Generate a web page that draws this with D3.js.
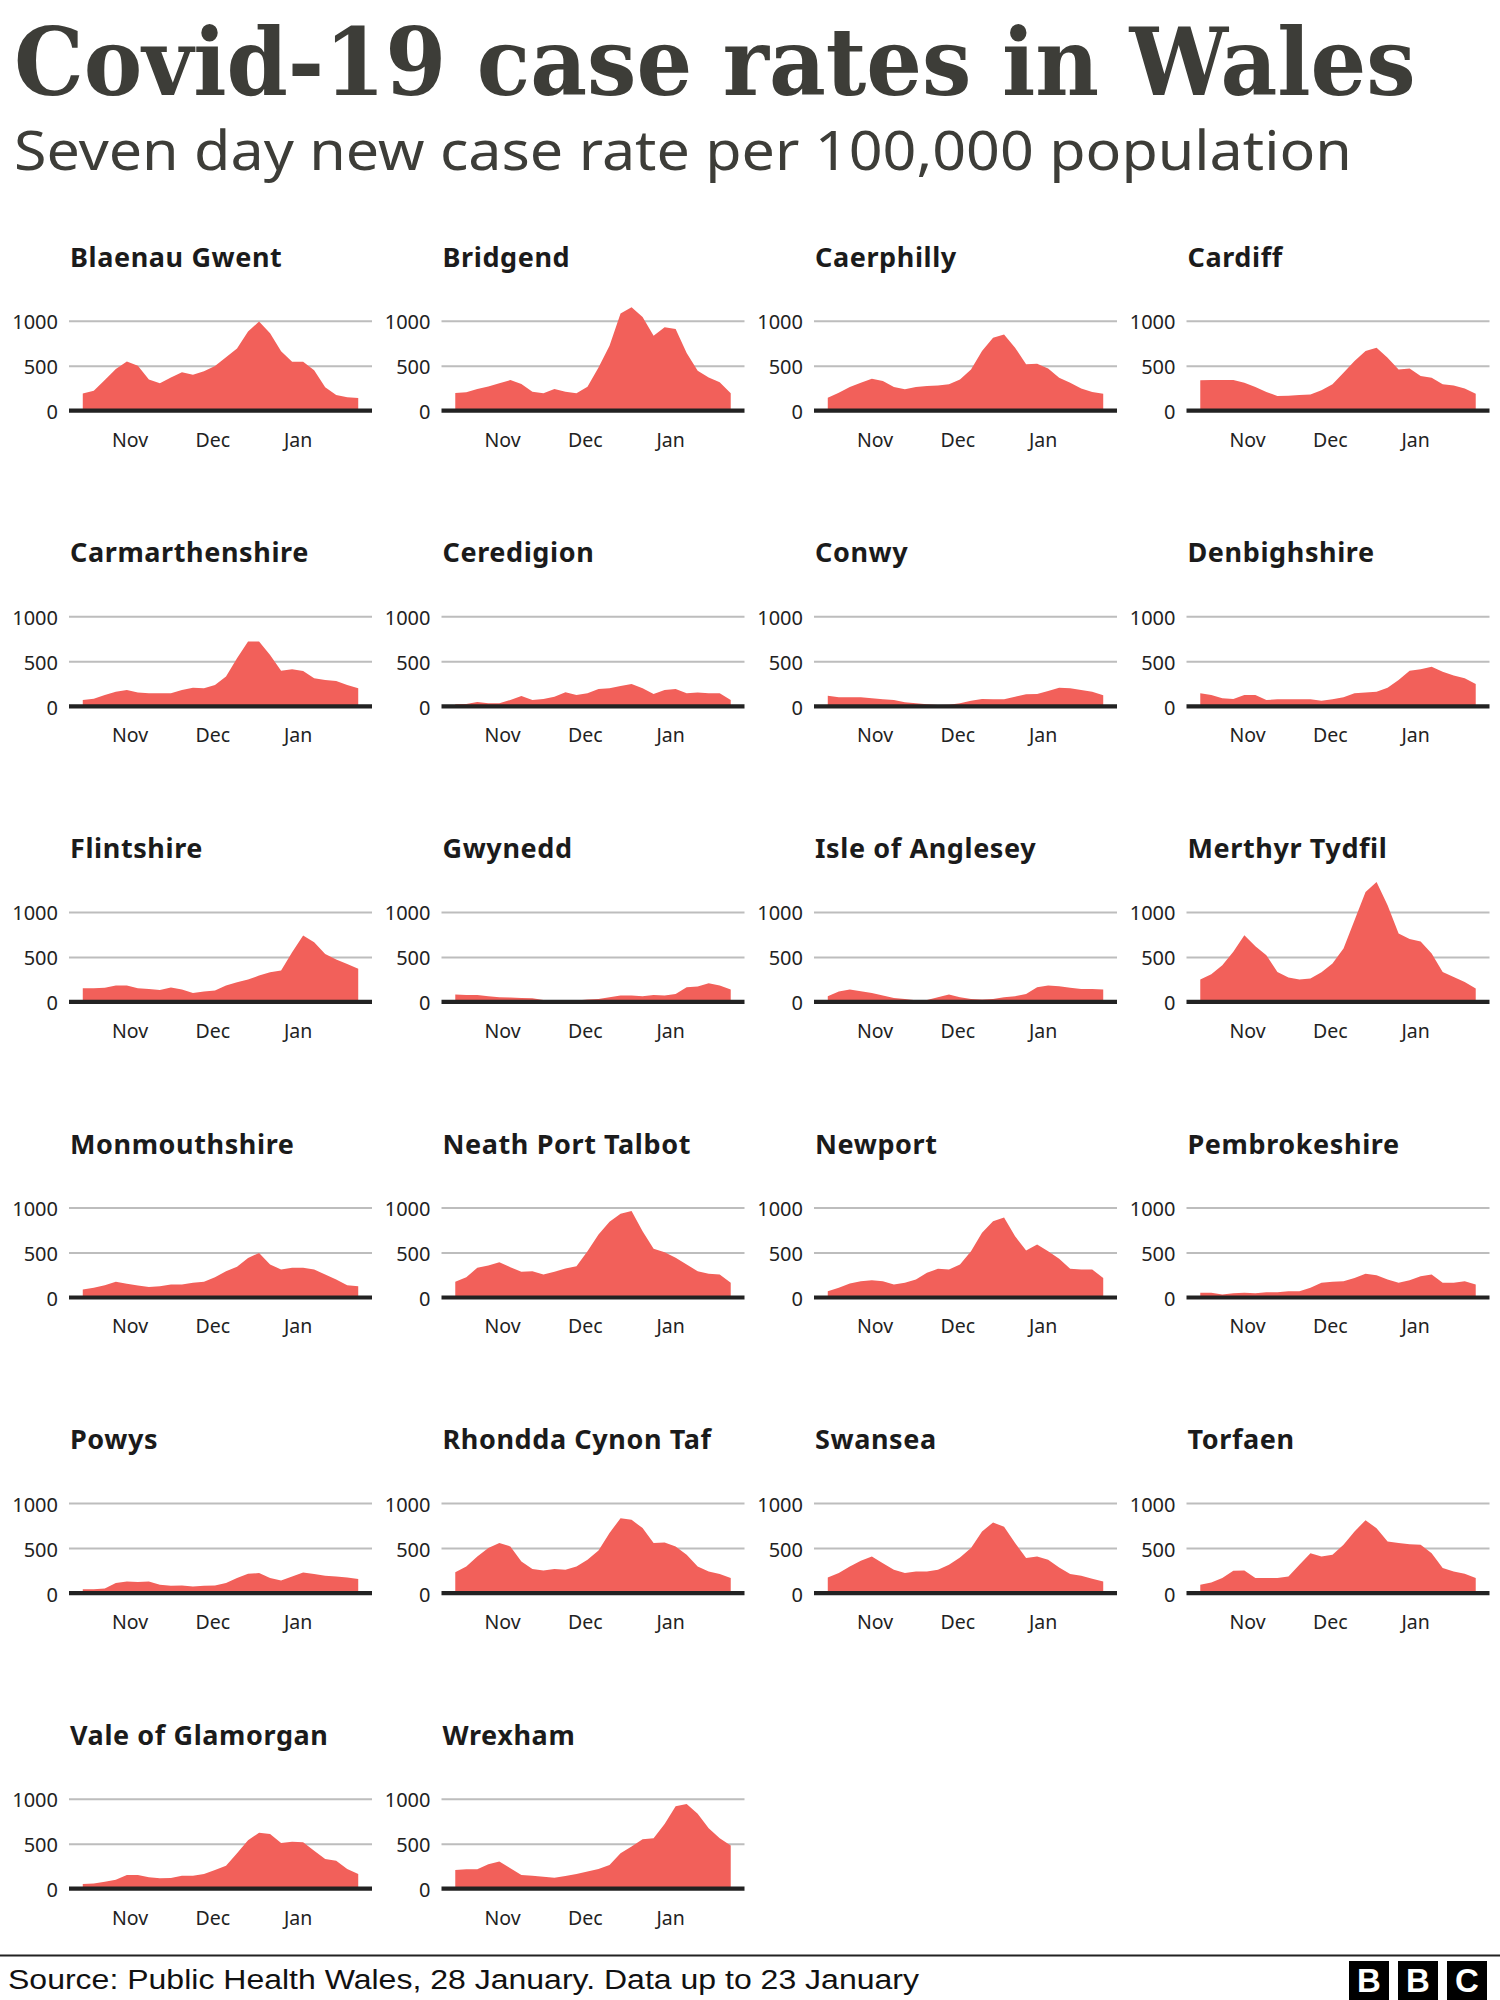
<!DOCTYPE html>
<html><head><meta charset="utf-8">
<script src="https://cdn.jsdelivr.net/npm/d3@7"></script>
<style>body{margin:0;background:#fff}</style>
</head><body>
<svg id="chart" width="1500" height="2000" xmlns="http://www.w3.org/2000/svg"></svg>
<script>
// ---------- DATA ----------
const areas = ["Blaenau Gwent","Bridgend","Caerphilly","Cardiff",
  "Carmarthenshire","Ceredigion","Conwy","Denbighshire",
  "Flintshire","Gwynedd","Isle of Anglesey","Merthyr Tydfil",
  "Monmouthshire","Neath Port Talbot","Newport","Pembrokeshire",
  "Powys","Rhondda Cynon Taf","Swansea","Torfaen",
  "Vale of Glamorgan","Wrexham"];

const sampleDates = ["2020-10-15","2020-10-19","2020-10-23","2020-10-27","2020-10-31",
  "2020-11-04","2020-11-08","2020-11-12","2020-11-16","2020-11-20","2020-11-24","2020-11-28",
  "2020-12-02","2020-12-06","2020-12-10","2020-12-14","2020-12-18","2020-12-22","2020-12-26","2020-12-30",
  "2021-01-03","2021-01-07","2021-01-11","2021-01-15","2021-01-19","2021-01-23"];

const blaenauGwent   = [190,222,340,463,548,500,348,304,370,426,400,437,496,593,690,880,990,860,660,545,545,450,260,175,150,140];
const bridgend       = [196,204,240,270,304,340,296,211,193,240,211,193,267,481,722,1080,1150,1040,833,926,907,640,444,370,315,193];
const caerphilly     = [144,200,263,311,355,330,263,237,263,274,281,293,348,459,663,811,848,700,515,522,470,367,311,248,207,189];
const cardiff        = [337,340,340,340,311,263,207,163,167,174,181,226,293,422,552,663,700,589,459,470,385,367,293,281,248,189];
const carmarthenshire= [70,85,126,163,181,152,144,144,144,181,207,200,237,330,533,720,720,570,396,411,393,311,293,281,237,200];
const ceredigion     = [22,26,48,33,33,70,115,70,81,107,156,126,144,193,200,226,248,200,137,181,193,144,152,144,144,70];
const conwy          = [118,100,100,100,89,78,70,44,33,22,15,18,33,63,81,78,78,107,133,137,170,207,200,181,163,122];
const denbighshire   = [144,126,89,81,126,126,70,78,78,78,78,63,78,100,144,152,163,207,293,396,411,440,385,341,311,248];
const flintshire     = [152,152,156,181,181,152,144,133,159,137,100,115,126,181,218,248,293,330,348,552,737,663,533,470,422,367];
const gwynedd        = [81,78,78,63,52,48,44,41,22,15,11,15,26,33,52,70,70,63,78,70,89,163,170,207,181,137];
const angleseyVals   = [63,115,137,118,100,70,44,33,18,22,52,81,52,33,26,33,52,63,89,163,181,174,156,144,144,137];
const merthyrTydfil  = [248,307,407,556,741,619,519,333,270,248,259,330,426,593,907,1222,1333,1074,759,700,670,537,333,278,222,148];
const monmouthshire  = [89,107,137,174,152,133,118,126,144,144,163,174,226,293,341,440,495,367,311,330,330,311,256,200,137,126];
const neathPortTalbot= [174,226,330,355,393,337,285,293,256,285,322,348,515,700,841,930,960,737,541,504,441,367,293,263,256,163];
const newport        = [70,107,156,181,193,181,144,163,200,274,319,311,367,515,719,848,890,680,522,589,515,430,319,311,311,218];
const pembrokeshire  = [52,52,33,48,52,48,59,59,70,70,107,163,174,181,218,263,248,200,163,193,237,256,163,163,181,144];
const powys          = [44,44,52,111,130,122,130,93,81,85,74,81,85,111,167,215,222,167,141,185,230,211,193,185,174,156];
const rhonddaCynonTaf= [233,296,407,500,556,519,352,267,252,267,259,296,370,474,667,833,815,722,556,563,519,426,296,241,211,167];
const swansea        = [174,222,296,359,407,333,259,222,241,241,259,315,396,500,685,785,737,556,389,407,370,285,211,193,159,130];
const torfaen        = [93,119,167,248,252,167,167,167,185,315,444,407,426,537,685,810,720,574,556,544,537,444,278,241,215,167];
const valeOfGlamorgan= [52,59,78,100,152,152,126,115,118,144,144,163,207,256,393,537,622,607,507,522,515,422,330,311,218,163];
const wrexham        = [208,216,216,271,301,227,152,145,134,123,141,164,190,219,264,394,468,550,561,720,915,940,833,673,561,480];

const seriesValues = [blaenauGwent,bridgend,caerphilly,cardiff,carmarthenshire,ceredigion,conwy,denbighshire,
  flintshire,gwynedd,angleseyVals,merthyrTydfil,monmouthshire,neathPortTalbot,newport,pembrokeshire,
  powys,rhonddaCynonTaf,swansea,torfaen,valeOfGlamorgan,wrexham];

const yTicks = [0, 500, 1000];
const monthTickDates = ["2020-11-01","2020-12-01","2021-01-01"];
const monthTickLabels = ["Nov","Dec","Jan"];
const xDomain = ["2020-10-10","2021-01-28"];

const titleText = "Covid-19 case rates in Wales";
const subtitleText = "Seven day new case rate per 100,000 population";
const sourceText = "Source: Public Health Wales, 28 January. Data up to 23 January";

// ---------- LAYOUT ----------
const parse = d3.timeParse("%Y-%m-%d");
const svg = d3.select("#chart");
const plotW = 303, colStep = 372.5, rowStep = 295.6, left0 = 69, base0 = 410.7;
const FILL = "#f2605a";
const SANS = "'Noto Sans', 'Open Sans', sans-serif";

svg.append("rect").attr("width",1500).attr("height",2000).attr("fill","#fff");

// text fitted to a target width by horizontal scaling
function fittedText(str, x0, y0, width, attrs) {
  const g = svg.append("g");
  const t = g.append("text").text(str).attr("x",0).attr("y",0);
  Object.entries(attrs).forEach(([k,v]) => t.attr(k, v));
  const w = t.node().getComputedTextLength();
  g.attr("transform", `translate(${x0},${y0}) scale(${width / w},1)`);
  return g;
}

fittedText(titleText, 14, 95, 1402, {
  "font-family":"'DejaVu Serif', serif", "font-weight":"bold", "font-size":93, "fill":"#3d3d38"});

fittedText(subtitleText, 14, 170, 1338, {
  "font-family":SANS, "font-size":55, "fill":"#3d3d38"});

const x = d3.scaleTime().domain(xDomain.map(parse)).range([0, plotW]);
const y = d3.scaleLinear().domain([0, 1000]).range([0, -90]);

const area = d3.area()
  .x(d => x(d.date))
  .y0(y(0))
  .y1(d => y(d.value))
  .curve(d3.curveLinear);

areas.forEach((name, i) => {
  const col = i % 4, row = Math.floor(i / 4);
  const g = svg.append("g").attr("transform", `translate(${left0 + colStep*col},${base0 + rowStep*row})`);
  const data = sampleDates.map((s, k) => ({date: parse(s), value: seriesValues[i][k]}));

  g.append("text").text(name)
    .attr("x",1).attr("y",-144)
    .attr("font-family",SANS).attr("font-weight","bold").attr("font-size",27)
    .attr("letter-spacing",0.6).attr("fill","#1b1b1b");

  // y axis with gridlines
  const yAxis = d3.axisLeft(y).tickValues(yTicks).tickSize(-plotW).tickPadding(11).tickFormat(d3.format("d"));
  const ya = g.append("g").call(yAxis);
  ya.select(".domain").remove();
  ya.selectAll(".tick line").attr("stroke","#bdbdbd").attr("stroke-width",2)
    .attr("opacity", d => d === 0 ? 0 : 1);
  ya.selectAll(".tick text").attr("font-family",SANS).attr("font-size",20).attr("fill","#222").attr("dy","0.4em");

  g.append("path").datum(data).attr("d", area).attr("fill", FILL);

  g.append("line").attr("x1",0).attr("x2",plotW).attr("y1",y(0)).attr("y2",y(0))
    .attr("stroke","#222").attr("stroke-width",4.2);

  const xAxis = d3.axisBottom(x).tickValues(monthTickDates.map(parse)).tickSize(0).tickPadding(22)
    .tickFormat((d, k) => monthTickLabels[k]);
  const xa = g.append("g").call(xAxis);
  xa.select(".domain").remove();
  xa.selectAll(".tick text").attr("font-family",SANS).attr("font-size",19.5).attr("fill","#222");
});

// ---------- FOOTER ----------
svg.append("line").attr("x1",0).attr("x2",1500).attr("y1",1955.5).attr("y2",1955.5)
  .attr("stroke","#222").attr("stroke-width",2);
fittedText(sourceText, 8, 1989, 911, {
  "font-family":"'Liberation Sans', Arial, sans-serif", "font-size":27, "fill":"#111"});

const logoLetters = ["B","B","C"];
const logo = svg.append("g");
logoLetters.forEach((ch, k) => {
  const bx = 1349 + k*49;
  logo.append("rect").attr("x",bx).attr("y",1961).attr("width",40).attr("height",39).attr("fill","#000");
  logo.append("text").text(ch).attr("x",bx+20).attr("y",1992).attr("text-anchor","middle")
    .attr("font-family","'Liberation Sans', Arial, sans-serif").attr("font-weight","bold")
    .attr("font-size",33).attr("fill","#fff");
});
</script>
</body></html>
